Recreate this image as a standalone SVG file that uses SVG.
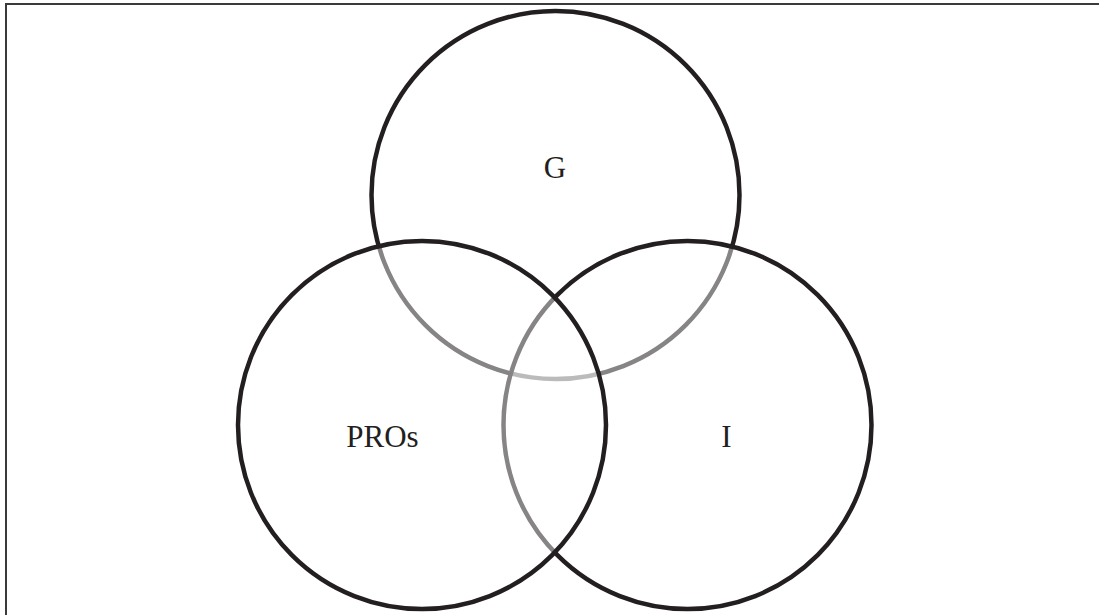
<svg xmlns="http://www.w3.org/2000/svg" width="1099" height="615" viewBox="0 0 1099 615">
  <style>
    .frame { fill: none; stroke: #3a3a3a; stroke-width: 2; }
    .circ { stroke: #231f20; stroke-width: 4.5; }
    .base { fill: #ffffff; }
    .over { fill: #ffffff; fill-opacity: 0.45; }
    .lbl { font-family: "Liberation Serif", "Times New Roman", serif; font-size: 31px; fill: #231f20; text-anchor: middle; }
  </style>
  <rect width="1099" height="615" fill="#ffffff"/>
  <path class="frame" d="M6 620 V4 H1100"/>
  <g id="node-G">
    <circle class="circ base" cx="555.5" cy="195" r="184"/>
    <text class="lbl" x="555" y="178">G</text>
  </g>
  <g id="node-I">
    <circle class="circ over" cx="687.5" cy="425" r="184"/>
    <text class="lbl" x="726.5" y="447">I</text>
  </g>
  <g id="node-PROs">
    <circle class="circ over" cx="422" cy="425" r="184"/>
    <text class="lbl" x="382.5" y="447">PROs</text>
  </g>
  <g id="connectors"></g>
</svg>
